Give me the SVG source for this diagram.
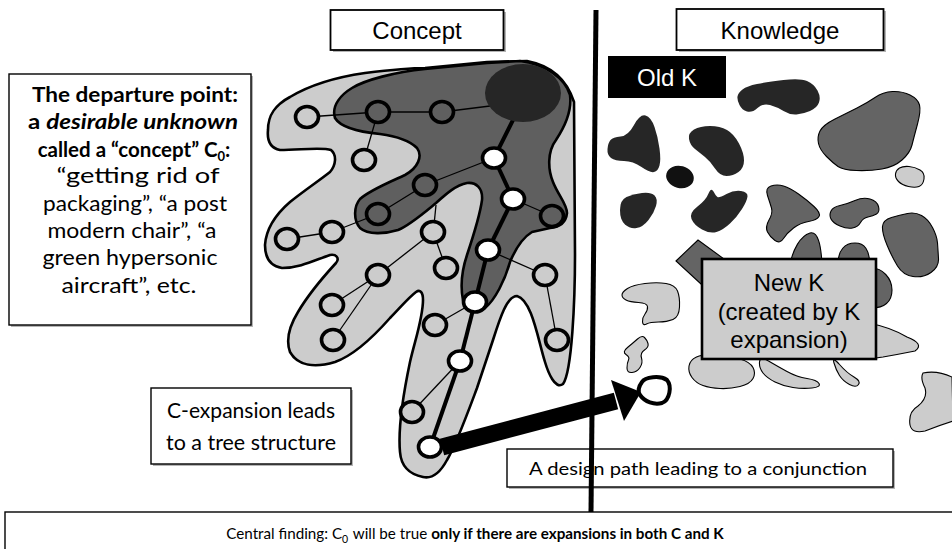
<svg xmlns="http://www.w3.org/2000/svg" width="952" height="549" viewBox="0 0 952 549">
<defs>
<style>
.box{fill:#fff;stroke:#000;stroke-width:1.4}
.shadow{fill:#b5b5b5}
.arial{font-family:"Liberation Sans",Arial,sans-serif;font-size:24px;fill:#000;text-anchor:middle}
.cal{font-family:Lato,"Open Sans",sans-serif;fill:#000;text-anchor:middle}
.light{fill:#cccccc;stroke:#000;stroke-width:2.6;stroke-linejoin:round}
.dark{fill:#5f5f5f;stroke:#000;stroke-width:2.6;stroke-linejoin:round}
.n{stroke:#000;stroke-width:3.6}
.nl{fill:#cccccc}
.nd{fill:#5f5f5f}
.nw{fill:#ffffff}
.e{stroke:#000;stroke-width:1.3;fill:none}
.et{stroke:#000;stroke-width:4;fill:none}
.ok{fill:#262626}
.mk{fill:#646464;stroke:#000;stroke-width:1.1}
.nk{fill:#cccccc;stroke:#000;stroke-width:1.1}
</style>
</defs>
<rect width="952" height="549" fill="#fff"/>

<g id="concept-space">
<path class="light" d="M425,68 L487,62 L527,61 C553,66 567,80 574,102 L575,255 C575,300 572,372 563,384 C555,390 548,372 545,362 C538,340 532,300 517,296 C507,296 500,318 493,340 L477,388 C468,412 456,445 447,460 C440,473 432,479 423,477 C408,474 401,465 400,452 C398,430 402,400 410,362 C415,340 423,318 423,300 C423,292 420,289 416,292 C408,298 400,308 390,318 C375,335 355,355 335,362 C315,368 298,366 290,352 C285,338 290,325 298,312 C308,295 325,275 336,263 C340,258 336,254 330,255 C315,260 300,268 282,268 C270,266 265,258 265,245 C266,230 275,215 290,202 C305,190 320,180 330,172 C336,165 337,155 331,150 C322,147 300,150 280,150 C270,148 267,140 268,130 C268,115 275,105 290,97 C305,88 330,78 365,73 C390,70 410,68 425,68 Z"/>
<path class="dark" d="M425,69 L487,63 L520,61 C545,64 565,78 570,95 C572,110 566,125 556,140 C547,152 548,170 553,182 C558,195 567,204 567,213 C566,222 560,227 550,228 L532,232 C522,238 515,250 510,262 C505,280 495,300 485,308 C478,312 467,310 463,300 C460,285 462,270 467,255 C472,240 480,215 482,200 C483,188 476,182 467,183 C456,185 446,194 436,203 C425,212 410,225 398,230 C385,234 368,235 360,228 C353,220 354,206 360,199 C370,190 390,182 405,175 C418,168 423,156 417,148 C409,140 395,136 380,134 C360,132 341,128 335,118 C331,105 342,94 352,88 C365,80 395,72 425,69 Z"/>
</g>

<g id="connectors">
<line class="e" x1="307" y1="117" x2="378" y2="112"/>
<line class="e" x1="378" y1="112" x2="442" y2="112"/>
<line class="e" x1="442" y1="112" x2="490" y2="106"/>
<line class="e" x1="378" y1="112" x2="364" y2="160"/>
<line class="et" x1="514" y1="118" x2="494" y2="158"/>
<line class="e" x1="494" y1="158" x2="425" y2="185"/>
<line class="e" x1="425" y1="185" x2="378" y2="214"/>
<line class="e" x1="378" y1="214" x2="332" y2="232"/>
<line class="e" x1="332" y1="232" x2="287" y2="239"/>
<line class="et" x1="494" y1="158" x2="513" y2="199"/>
<line class="e" x1="513" y1="199" x2="552" y2="216"/>
<line class="et" x1="513" y1="199" x2="488" y2="250"/>
<line class="et" x1="488" y1="250" x2="475" y2="302"/>
<line class="et" x1="475" y1="302" x2="460" y2="361"/>
<line class="et" x1="460" y1="361" x2="430" y2="447"/>
<line class="e" x1="436" y1="205" x2="434" y2="225"/>
<line class="e" x1="433" y1="232" x2="378" y2="275"/>
<line class="e" x1="433" y1="232" x2="446" y2="268"/>
<line class="e" x1="378" y1="275" x2="332" y2="305"/>
<line class="e" x1="378" y1="275" x2="333" y2="340"/>
<line class="e" x1="475" y1="302" x2="435" y2="325"/>
<line class="e" x1="460" y1="361" x2="412" y2="412"/>
<line class="e" x1="488" y1="250" x2="545" y2="275"/>
<line class="e" x1="545" y1="275" x2="557" y2="340"/>
<line x1="442" y1="447" x2="616" y2="401" stroke="#000" stroke-width="17"/>
<polygon points="611,380 641,392 624,421" fill="#000"/>
</g>

<ellipse id="c0" cx="523" cy="93" rx="38" ry="29" fill="#262626"/>

<g id="nodes">
<g id="n1"><ellipse class="n nl" cx="307" cy="117" rx="11.5" ry="10.5"/></g>
<g id="n2"><ellipse class="n nd" cx="378" cy="112" rx="11.5" ry="10.5"/></g>
<g id="n3"><ellipse class="n nd" cx="442" cy="112" rx="11.5" ry="10.5"/></g>
<g id="n4"><ellipse class="n nl" cx="364" cy="160" rx="11.5" ry="10.5"/></g>
<g id="n5"><ellipse class="n nw" cx="494" cy="158" rx="11.5" ry="10"/></g>
<g id="n6"><ellipse class="n nd" cx="425" cy="185" rx="11.5" ry="10.5"/></g>
<g id="n7"><ellipse class="n nd" cx="378" cy="214" rx="11.5" ry="10.5"/></g>
<g id="n8"><ellipse class="n nw" cx="513" cy="199" rx="11.5" ry="10"/></g>
<g id="n9"><ellipse class="n nd" cx="552" cy="216" rx="11.5" ry="10.5"/></g>
<g id="n10"><ellipse class="n nl" cx="332" cy="232" rx="11.5" ry="10.5"/></g>
<g id="n11"><ellipse class="n nl" cx="287" cy="239" rx="11.5" ry="10.5"/></g>
<g id="n12"><ellipse class="n nl" cx="433" cy="232" rx="11.5" ry="10.5"/></g>
<g id="n13"><ellipse class="n nw" cx="488" cy="250" rx="11.5" ry="10"/></g>
<g id="n14"><ellipse class="n nl" cx="446" cy="268" rx="11.5" ry="10.5"/></g>
<g id="n15"><ellipse class="n nl" cx="378" cy="275" rx="11.5" ry="10.5"/></g>
<g id="n16"><ellipse class="n nl" cx="545" cy="275" rx="11.5" ry="10.5"/></g>
<g id="n17"><ellipse class="n nw" cx="475" cy="302" rx="11.5" ry="10"/></g>
<g id="n18"><ellipse class="n nl" cx="332" cy="305" rx="11.5" ry="10.5"/></g>
<g id="n19"><ellipse class="n nl" cx="435" cy="325" rx="11.5" ry="10.5"/></g>
<g id="n20"><ellipse class="n nl" cx="333" cy="340" rx="11.5" ry="10.5"/></g>
<g id="n21"><ellipse class="n nl" cx="557" cy="340" rx="11.5" ry="10.5"/></g>
<g id="n22"><ellipse class="n nw" cx="460" cy="361" rx="11.5" ry="10"/></g>
<g id="n23"><ellipse class="n nl" cx="412" cy="412" rx="11.5" ry="10.5"/></g>
<g id="n24"><ellipse class="n nw" cx="430" cy="447" rx="11.5" ry="10"/></g>
</g>

<g id="old-k-blobs" class="ok">
<path d="M742.5,89.5 Q747,86 757,84 Q767,82 783.5,80 Q800,78 807,81 Q814,84 817.5,90.5 Q821,97 819,102.5 Q817,108 810,111 Q803,114 796.5,114.5 Q790,115 783.5,111 Q777,107 770,105 Q763,103 757.5,108 Q752,113 747,111.5 Q742,110 739.5,105 Q737,100 737.5,96.5 Q738,93 742.5,89.5 Z"/>
<path d="M610.5,140 Q613,137 620.5,136.5 Q628,136 634,125 Q640,114 645.5,115.5 Q651,117 654.5,127 Q658,137 659.5,148.5 Q661,160 659.5,165.5 Q658,171 654,172 Q650,173 641.5,167 Q633,161 624,161 Q615,161 611,158 Q607,155 607.5,149 Q608,143 610.5,140 Z"/>
<path d="M694,129.5 Q700,126 710,126 Q720,126 727,130 Q734,134 739,143.5 Q744,153 744,160.5 Q744,168 738.5,172 Q733,176 726.5,176 Q720,176 715,168.5 Q710,161 705,157 Q700,153 695,149 Q690,145 689,139 Q688,133 694,129.5 Z"/>
<ellipse cx="680" cy="177" rx="14" ry="11" transform="rotate(15 680 177)" fill="#111"/>
<path d="M626.5,197 Q633,194 642,193 Q651,192 654.5,195.5 Q658,199 656,206 Q654,213 648.5,220 Q643,227 636.5,228 Q630,229 625,224.5 Q620,220 620,210 Q620,200 626.5,197 Z"/>
<path d="M697.5,206.5 Q706,200 708.5,193.5 Q711,187 713.5,191.5 Q716,196 717.5,197 Q719,198 726.5,194 Q734,190 741,191 Q748,192 747.5,196.5 Q747,201 742,209 Q737,217 730,223.5 Q723,230 716.5,232 Q710,234 702,229.5 Q694,225 691.5,219 Q689,213 697.5,206.5 Z"/>
</g>
<g id="mid-k-blobs" class="mk">
<path d="M820,131 Q823,125 835,119 Q847,113 857,108 Q867,103 875,97.5 Q883,92 892.5,91.5 Q902,91 910,95 Q918,99 919.5,105 Q921,111 917.5,124 Q914,137 912,145 Q910,153 902,160 Q894,167 882,169 Q870,171 856.5,170.5 Q843,170 838,166.5 Q833,163 826.5,156.5 Q820,150 818.5,143.5 Q817,137 820,131 Z"/>
<path d="M771,186 Q777,184 783.5,186 Q790,188 798.5,194 Q807,200 814,206.5 Q821,213 819,216.5 Q817,220 808.5,221.5 Q800,223 793.5,228 Q787,233 783.5,238.5 Q780,244 775,240.5 Q770,237 767.5,232 Q765,227 769,220 Q773,213 771.5,208 Q770,203 767.5,195.5 Q765,188 771,186 Z"/>
<path d="M840,205.5 Q847,204 855,200.5 Q863,197 870,199 Q877,201 878.5,206.5 Q880,212 876.5,214 Q873,216 868,217 Q863,218 860.5,222.5 Q858,227 852.5,228 Q847,229 840,226 Q833,223 831,219 Q829,215 831,211 Q833,207 840,205.5 Z"/>
<path d="M891.5,217.5 Q900,215 907.5,213.5 Q915,212 921.5,215.5 Q928,219 932.5,227.5 Q937,236 937.5,243 Q938,250 938.5,258.5 Q939,267 931,272.5 Q923,278 913,276.5 Q903,275 897.5,266 Q892,257 887,245 Q882,233 882.5,226.5 Q883,220 891.5,217.5 Z"/>
<polygon points="676,261 698,240 724,259 724,300 701,284"/>
<path d="M790,264 C793,250 800,236 810,233 C818,231 821,245 822,264 Z"/>
<path d="M838,264 C838,250 845,243 855,243 C865,243 869,250 870,264 Z"/>
<path d="M872,268 C882,268 892,278 892,290 C892,302 884,308 872,308 Z"/>
</g>
<g id="new-k-blobs" class="nk">
<path d="M899.5,168 Q903,166 909,166.5 Q915,167 920,170 Q925,173 924,179 Q923,185 919,186.5 Q915,188 908.5,186.5 Q902,185 898.5,181.5 Q895,178 895.5,174 Q896,170 899.5,168 Z"/>
<path d="M627.5,288.5 Q633,285 645,283.5 Q657,282 666,283.5 Q675,285 677.5,291 Q680,297 679.5,307 Q679,317 673,319.5 Q667,322 658.5,322 Q650,322 646.5,324 Q643,326 642.5,322 Q642,318 645,314 Q648,310 647.5,306.5 Q647,303 638.5,302.5 Q630,302 626,300 Q622,298 622,295 Q622,292 627.5,288.5 Z"/>
<path d="M627.5,347.5 Q633,343 637.5,339 Q642,335 644.5,337.5 Q647,340 648,343.5 Q649,347 644.5,350 Q640,353 641.5,358 Q643,363 640,367.5 Q637,372 632,372.5 Q627,373 627,368 Q627,363 628.5,360 Q630,357 626,354.5 Q622,352 627.5,347.5 Z"/>
<path d="M696.5,357 Q703,354 716.5,355 Q730,356 740,359 Q750,362 753,367.5 Q756,373 753,378.5 Q750,384 740,386.5 Q730,389 720,388.5 Q710,388 703,385.5 Q696,383 692,377.5 Q688,372 689,366 Q690,360 696.5,357 Z"/>
<path d="M768.5,361 Q777,366 787,371.5 Q797,377 807,378.5 Q817,380 819,383.5 Q821,387 812,388 Q803,389 793,387.5 Q783,386 775,382 Q767,378 763,373 Q759,368 759.5,362 Q760,356 768.5,361 Z"/>
<path d="M839.5,364.5 Q847,373 854,377 Q861,381 858.5,384.5 Q856,388 849.5,384.5 Q843,381 839.5,375.5 Q836,370 834,363 Q832,356 839.5,364.5 Z"/>
<path d="M868,323 Q890,327 907,337 Q925,344 915,351 Q900,354 883,357 L868,359 Z"/>
<path d="M923,373 Q937,370 952,377 L953,421 Q940,425 925,431 Q912,434 910,425 Q908,412 918,406 Q928,398 925,388 Q920,378 923,373 Z"/>
</g>

<g id="conjunction-node">
<path d="M642,382 C645,377 660,375 667,380 C672,386 670,400 662,403 C654,405 645,402 640,395 C637,390 639,386 642,382 Z" fill="#fff" stroke="#000" stroke-width="4"/>
</g>

<g id="concept-label">
<rect class="shadow" x="333" y="12" width="173" height="40"/>
<rect x="330.5" y="10" width="173" height="40" fill="#fff" stroke="#000" stroke-width="1.8"/>
<text class="arial" x="417" y="39">Concept</text>
</g>
<g id="knowledge-label">
<rect class="shadow" x="679" y="11" width="207" height="41"/>
<rect x="676.5" y="9" width="207" height="41" fill="#fff" stroke="#000" stroke-width="1.8"/>
<text class="arial" x="780" y="39">Knowledge</text>
</g>
<g id="old-k-label">
<rect x="608" y="56" width="118" height="42" fill="#000"/>
<text class="arial" x="667" y="86" style="fill:#fff">Old K</text>
</g>
<g id="new-k-label">
<rect x="702" y="259" width="174" height="100" fill="#cccccc" stroke="#000" stroke-width="2.6"/>
<text class="arial" x="789" y="291">New K</text>
<text class="arial" x="789" y="320">(created by K</text>
<text class="arial" x="789" y="348">expansion)</text>
</g>

<g id="departure-box">
<rect class="shadow" x="11" y="76" width="242" height="251"/>
<rect class="box" x="9" y="74" width="242" height="251"/>
<g class="cal" style="font-size:20.5px">
<text x="135" y="102" font-weight="bold" textLength="206" lengthAdjust="spacingAndGlyphs">The departure point:</text>
<text x="133" y="129" font-weight="bold" textLength="210" lengthAdjust="spacingAndGlyphs">a <tspan font-style="italic">desirable unknown</tspan></text>
<text x="134" y="157" font-weight="bold">called a “concept” C<tspan font-size="13" dy="4">0</tspan><tspan dy="-4">:</tspan></text>
<text x="138" y="183" textLength="163" lengthAdjust="spacingAndGlyphs">“getting rid of</text>
<text x="135" y="211" textLength="184" lengthAdjust="spacingAndGlyphs">packaging”, “a post</text>
<text x="132" y="238" textLength="169" lengthAdjust="spacingAndGlyphs">modern chair”, “a</text>
<text x="130" y="265" textLength="175" lengthAdjust="spacingAndGlyphs">green hypersonic</text>
<text x="129" y="293" textLength="135" lengthAdjust="spacingAndGlyphs">aircraft”, etc.</text>
</g>
</g>

<g id="c-expansion-box">
<rect class="shadow" x="153" y="390" width="200" height="76"/>
<rect class="box" x="151" y="388" width="200" height="76"/>
<text class="cal" x="251" y="418" style="font-size:21.5px" textLength="168" lengthAdjust="spacingAndGlyphs">C-expansion leads</text>
<text class="cal" x="251" y="450" style="font-size:21.5px" textLength="170" lengthAdjust="spacingAndGlyphs">to a tree structure</text>
</g>

<g id="design-path-box">
<rect class="shadow" x="509" y="451" width="386" height="38"/>
<rect class="box" x="507" y="449" width="386" height="38"/>
<text class="cal" x="698" y="475" style="font-size:17.5px" textLength="338" lengthAdjust="spacingAndGlyphs">A design path leading to a conjunction</text>
</g>

<line id="divider" x1="596" y1="10" x2="591" y2="512" stroke="#000" stroke-width="5"/>

<g id="finding-box">
<rect class="box" x="5" y="512" width="960" height="45"/>
<text class="cal" x="475" y="539" style="font-size:15.2px">Central finding: C<tspan font-size="10.5" dy="4">0</tspan><tspan dy="-4" dx="1"> will be true </tspan><tspan font-weight="bold">only if there are expansions in both C and K</tspan></text>
</g>
</svg>
